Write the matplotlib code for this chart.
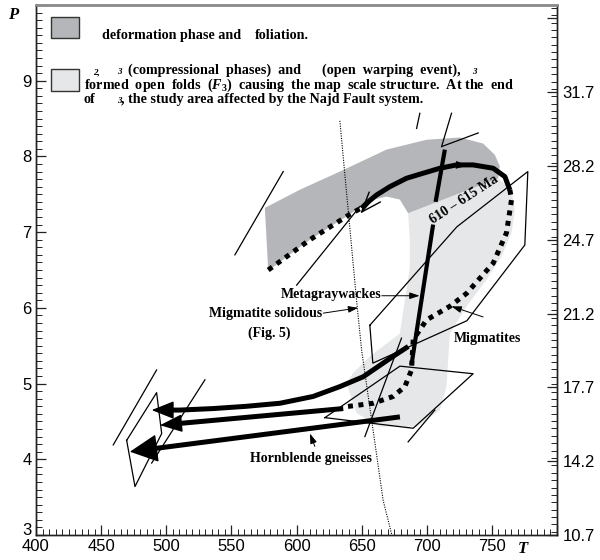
import numpy as np
import matplotlib.pyplot as plt
from matplotlib.ticker import MultipleLocator
from matplotlib.transforms import ScaledTranslation

plt.rcParams['mathtext.fontset'] = 'custom'
plt.rcParams['mathtext.rm'] = 'Liberation Serif:bold'
plt.rcParams['mathtext.it'] = 'Liberation Serif:italic:bold'
plt.rcParams['mathtext.bf'] = 'Liberation Serif:bold'

serif = dict(family='Liberation Serif', weight='bold')

# light grey field (D2-D3)
light_T = [685.7, 754.8, 765.1, 767.6, 765.1, 757.4, 745.9, 730.5, 717.7, 715.2, 710.0,
           692.2, 664.0, 646.1, 638.5, 643.5, 656.3, 679.4, 683.2, 687.0, 687.0]
light_P = [7.25, 7.71, 7.56, 7.29, 6.99, 6.68, 6.37, 6.02, 5.66, 4.96, 4.65,
           4.43, 4.43, 4.61, 5.00, 5.14, 5.36, 5.66, 6.10, 6.54, 6.90]

# dark grey field (D1)
dark_T = [578.3, 575.7, 602.6, 633.3, 669.1, 699.8, 725.4, 743.3, 752.3, 756.1, 754.8,
          685.7, 679.4, 669.1, 658.9, 648.7, 642.3, 610.3]
dark_P = [6.49, 7.32, 7.56, 7.80, 8.09, 8.22, 8.25, 8.17, 8.02, 7.87, 7.71,
          7.25, 7.43, 7.47, 7.43, 7.34, 7.25, 6.90]

# migmatite solidus
sol_T = [633.3, 646.1, 650.0, 666.5, 673.2]
sol_P = [8.47, 6.10, 5.44, 3.46, 3.00]

# prograde dotted path (left)
dotL_T = [578.3, 610.3, 642.3, 650.0]
dotL_P = [6.50, 6.90, 7.25, 7.32]

# peak arc
arc_T = [763.8, 760.0, 751.0, 735.6, 722.9, 710.1, 697.2, 684.5, 671.7, 661.5, 653.8, 650.0]
arc_P = [7.557, 7.733, 7.844, 7.888, 7.888, 7.844, 7.778, 7.712, 7.601, 7.491, 7.382, 7.316]

# dotted decompression path (right)
dotR_T = [763.8, 765.1, 761.2, 751.0, 730.5, 717.7, 699.8, 689.6, 688.3, 683.2, 674.2, 658.9, 635.8]
dotR_P = [7.56, 7.43, 6.99, 6.59, 6.19, 6.02, 5.84, 5.58, 5.18, 4.96, 4.83, 4.74, 4.69]

# 610-615 Ma steep path, split around the label
vA_T = [713.9, 706.8]
vA_P = [8.09, 7.40]
vB_T = [704.9, 688.3]
vB_P = [7.10, 5.25]

# retrograde arrows
ar1_T = [685.8, 674.2, 651.2, 633.3, 612.8, 587.3, 561.7, 536.1, 510.5, 488.8]
ar1_P = [5.49, 5.36, 5.09, 4.96, 4.83, 4.74, 4.70, 4.67, 4.65, 4.65]
ar2_T = [635.9, 495.2]
ar2_P = [4.67, 4.45]
ar3_T = [679.4, 472.1]
ar3_P = [4.56, 4.10]

# thin lines / boxes
thin_lines = [
    ([719.0, 711.4], [8.57, 8.13]),
    ([711.4, 739.5], [8.13, 8.31]),
    ([694.7, 692.2], [8.57, 8.37]),
    ([552.7, 589.8], [6.70, 7.80]),
    ([600.1, 648.7], [6.30, 7.34]),
    ([652.5, 680.6], [4.30, 5.60]),
    ([685.7, 706.2], [4.23, 4.65]),
    ([459.3, 492.6], [4.19, 5.18]),
    ([488.8, 529.7], [3.95, 5.05]),
]
box1_T = [656.3, 723.1, 777.6, 775.3, 730.8, 658.6, 656.3]
box1_P = [5.77, 7.07, 7.80, 6.83, 5.83, 5.27, 5.77]
box2_T = [621.8, 679.4, 735.6, 689.6, 621.8]
box2_P = [4.55, 5.23, 5.13, 4.41, 4.55]
box3_T = [469.6, 492.6, 496.5, 476.0, 469.6]
box3_P = [4.25, 4.88, 4.34, 3.64, 4.25]

xticks = [400, 450, 500, 550, 600, 650, 700, 750, 800]
xlabels = ['400', '450', '500', '550', '600', '650', '700', '750', '']
yticks = [3, 4, 5, 6, 7, 8, 9, 10]
ylabels = ['3', '4', '5', '6', '7', '8', '9', '']
rticks = [10.7, 14.2, 17.7, 21.2, 24.7, 28.2, 31.7, 35.2]
rlabels = ['10.7', '14.2', '17.7', '21.2', '24.7', '28.2', '31.7', '']

fig = plt.figure(figsize=(6, 5.6), dpi=100)
ax = fig.add_axes([36/600, 25/560, 521/600, 530/560])
ax.set_xlim(400, 800)
ax.set_ylim(3, 10)

ax.fill(light_T, light_P, color='#e6e7e8', lw=0, zorder=1)
ax.fill(dark_T, dark_P, color='#b5b6b9', lw=0, zorder=2)

ax.plot(sol_T, sol_P, color='k', lw=0.8, ls=(0, (1, 1.2)), zorder=3)
for tt, pp in thin_lines:
    ax.plot(tt, pp, color='k', lw=0.9, zorder=3)
for bt, bp in [(box1_T, box1_P), (box2_T, box2_P), (box3_T, box3_P)]:
    ax.plot(bt, bp, color='k', lw=0.9, zorder=3)

dots = dict(color='k', lw=3.6, ls=(0, (1, 1.1)), solid_capstyle='butt', dash_capstyle='butt', zorder=4)
ax.plot(dotL_T, dotL_P, **dots)
ax.plot(dotR_T, dotR_P, **dots)

ax.plot(arc_T, arc_P, color='k', lw=3.6, zorder=5, solid_capstyle='butt', solid_joinstyle='round')
ax.annotate('', xy=(arc_T[-1] - 1, arc_P[-1] - 0.07), xytext=(arc_T[-3], arc_P[-3]),
            arrowprops=dict(arrowstyle='->,head_length=1.2,head_width=0.45', color='k', lw=1.0,
                            mutation_scale=12, shrinkA=0, shrinkB=0), zorder=5)
ax.annotate('', xy=(arc_T[4] + 8, arc_P[4] - 0.01), xytext=(arc_T[4], arc_P[4]),
            arrowprops=dict(arrowstyle='-|>,head_length=0.7,head_width=0.25', color='k', lw=0.5,
                            mutation_scale=10, shrinkA=0, shrinkB=0), zorder=5)

ax.plot(vA_T, vA_P, color='k', lw=3.0, zorder=5, solid_capstyle='butt')
ax.plot(vB_T, vB_P, color='k', lw=3.0, zorder=5, solid_capstyle='butt')

for at, ap, ms, hw in [(ar1_T, ar1_P, 14, 0.4), (ar2_T, ar2_P, 14, 0.4), (ar3_T, ar3_P, 18, 0.5)]:
    slope = (ap[-2] - ap[-1]) / (at[-2] - at[-1])
    ax.plot(at[:-1] + [at[-1] + 8], ap[:-1] + [ap[-1] + slope * 8],
            color='k', lw=3.6, zorder=5, solid_capstyle='butt', solid_joinstyle='round')
    ax.annotate('', xy=(at[-1], ap[-1]), xytext=(at[-1] + 12, ap[-1] + slope * 12),
                arrowprops=dict(arrowstyle='-|>,head_length=1.0,head_width=%g' % hw, color='k', lw=1,
                                mutation_scale=ms, shrinkA=0, shrinkB=0), zorder=6)

# labels
lab = dict(fontsize=10, zorder=7, **serif)
small_arrow = dict(arrowstyle='-|>,head_length=0.6,head_width=0.2', color='k', lw=0.7,
                   mutation_scale=10, shrinkA=0, shrinkB=0)
ax.text(729.0, 7.43, '610 – 615 Ma', rotation=33, ha='center', va='center', **lab)
ax.text(626.9, 6.17, 'Metagraywackes', ha='center', va='center', **lab)
ax.annotate('', xy=(694.5, 6.16), xytext=(665.5, 6.16), arrowprops=small_arrow)
ax.text(576.4, 5.93, 'Migmatite solidous', ha='center', va='center', **lab)
ax.text(578.8, 5.67, '(Fig. 5)', ha='center', va='center', **lab)
ax.annotate('', xy=(647.4, 6.00), xytext=(620.5, 5.93), arrowprops=small_arrow)
ax.text(746.9, 5.60, 'Migmatites', ha='center', va='center', **lab)
ax.annotate('', xy=(719.0, 6.02), xytext=(743.3, 5.88), arrowprops=small_arrow)
ax.text(611.0, 4.01, 'Hornblende gneisses', ha='center', va='center', **lab)
ax.annotate('', xy=(610.3, 4.34), xytext=(614.1, 4.17), arrowprops=small_arrow)

# legend boxes
ax.add_patch(plt.Rectangle((411.2, 9.56), 22.0, 0.287, facecolor='#b5b6b9',
                           edgecolor='#333333', lw=1, zorder=7))
ax.add_patch(plt.Rectangle((411.2, 8.87), 22.0, 0.282, facecolor='#e6e7e8',
                           edgecolor='#333333', lw=1, zorder=7))
leg = dict(fontsize=10.2, ha='left', va='center', zorder=7, **serif)
sub = dict(fontsize=6.5, ha='left', va='center', zorder=7, style='italic',
           family='Liberation Serif', weight='bold')
ax.text(450.7, 9.60, 'deformation phase and', **leg)
ax.text(568.1, 9.60, 'foliation.', **leg)
ax.text(443.7, 9.11, '2,', **sub)
ax.text(462.2, 9.11, '3', **sub)
ax.text(470.6, 9.14, '(compressional  phases)  and', **leg)
ax.text(619.5, 9.14, '(open  warping  event),', **leg)
ax.text(734.6, 9.12, '3', **sub)
ax.text(436.8, 8.94, r'formed  open  folds  ($F_{3}$)  causing  the map  scale structure.  At the  end', **leg)
ax.text(436.8, 8.75, 'of', **leg)
ax.text(462.2, 8.73, '3', **sub)
ax.text(465.0, 8.75, ', the study area affected by the Najd Fault system.', **leg)

# axes
tick_font = dict(family='Liberation Sans', size=12)
ax.set_xticks(xticks)
ax.set_xticklabels(xlabels, **tick_font)
ax.set_yticks(yticks)
ax.set_yticklabels(ylabels, **tick_font)
ax.xaxis.set_minor_locator(MultipleLocator(5))
ax.yaxis.set_minor_locator(MultipleLocator(0.1))
ax.tick_params(which='both', direction='in', top=False, right=False, pad=3, color='#222222')
ax.tick_params(which='major', length=7, width=0.9)
ax.tick_params(which='minor', length=4, width=0.7)
# lift the "3" a bit off the corner, as in the original
lbl3 = ax.get_yticklabels()[0]
lbl3.set_transform(lbl3.get_transform() + ScaledTranslation(0, 4/72, fig.dpi_scale_trans))

ax2 = ax.twinx()
ax2.set_ylim(10.7, 35.83)
ax2.set_yticks(rticks)
ax2.set_yticklabels(rlabels, **tick_font)
ax2.yaxis.set_minor_locator(MultipleLocator(0.35))
ax2.tick_params(which='both', direction='in', pad=4, color='#222222')
ax2.tick_params(which='major', length=7, width=0.9)
ax2.tick_params(which='minor', length=4, width=0.7)

for a in (ax, ax2):
    a.spines['top'].set_color('#8c8c8c')
    a.spines['top'].set_linewidth(1.8)
    for s in ('left', 'right', 'bottom'):
        a.spines[s].set_color('#222222')
        a.spines[s].set_linewidth(1.0)

fig.text(13/600, 1 - 15/560, 'P', fontsize=12, style='italic', ha='center', va='center',
         family='Liberation Serif', weight='bold')
fig.text(523/600, 1 - 549/560, 'T', fontsize=12, style='italic', ha='center', va='center',
         family='Liberation Serif', weight='bold')

fig.savefig('out.png', dpi=100)
